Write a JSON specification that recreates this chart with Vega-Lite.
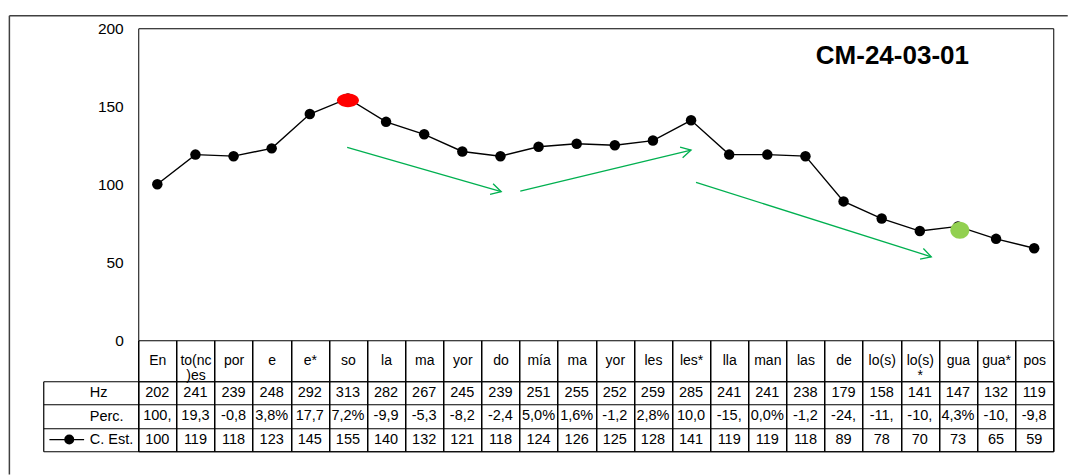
{
  "$schema": "https://vega.github.io/schema/vega-lite/v6.json",
  "padding": {"left": 7.25, "top": 14.25, "right": 0, "bottom": 0},
  "background": "white",
  "config": {
    "view": {"stroke": "black", "strokeWidth": 1},
    "font": "Liberation Sans",
    "text": {"font": "Liberation Sans"},
    "axis": {"labelFont": "Liberation Sans", "labelColor": "black"}
  },
  "datasets": {
    "syl": [
      {"k": "01|En", "hz": 202, "perc": "100,", "est": 100},
      {"k": "02|to(nc|)es", "hz": 241, "perc": "19,3", "est": 119},
      {"k": "03|por", "hz": 239, "perc": "-0,8", "est": 118},
      {"k": "04|e", "hz": 248, "perc": "3,8%", "est": 123},
      {"k": "05|e*", "hz": 292, "perc": "17,7", "est": 145},
      {"k": "06|so", "hz": 313, "perc": "7,2%", "est": 155},
      {"k": "07|la", "hz": 282, "perc": "-9,9", "est": 140},
      {"k": "08|ma", "hz": 267, "perc": "-5,3", "est": 132},
      {"k": "09|yor", "hz": 245, "perc": "-8,2", "est": 121},
      {"k": "10|do", "hz": 239, "perc": "-2,4", "est": 118},
      {"k": "11|mía", "hz": 251, "perc": "5,0%", "est": 124},
      {"k": "12|ma", "hz": 255, "perc": "1,6%", "est": 126},
      {"k": "13|yor", "hz": 252, "perc": "-1,2", "est": 125},
      {"k": "14|les", "hz": 259, "perc": "2,8%", "est": 128},
      {"k": "15|les*", "hz": 285, "perc": "10,0", "est": 141},
      {"k": "16|lla", "hz": 241, "perc": "-15,", "est": 119},
      {"k": "17|man", "hz": 241, "perc": "0,0%", "est": 119},
      {"k": "18|las", "hz": 238, "perc": "-1,2", "est": 118},
      {"k": "19|de", "hz": 179, "perc": "-24,", "est": 89},
      {"k": "20|lo(s)", "hz": 158, "perc": "-11,", "est": 78},
      {"k": "21|lo(s)|*", "hz": 141, "perc": "-10,", "est": 70},
      {"k": "22|gua", "hz": 147, "perc": "4,3%", "est": 73},
      {"k": "23|gua*", "hz": 132, "perc": "-10,", "est": 65},
      {"k": "24|pos", "hz": 119, "perc": "-9,8", "est": 59}
    ],
    "rows": [
      {"row": "hz", "label": "Hz"},
      {"row": "perc", "label": "Perc."},
      {"row": "est", "label": "C. Est."}
    ],
    "arrows": [
      {"a": 1, "x": 5.48, "y": 123.6},
      {"a": 1, "x": 9.52, "y": 95.2},
      {"a": 2, "x": 10.02, "y": 95.6},
      {"a": 2, "x": 14.5, "y": 121.9},
      {"a": 3, "x": 14.63, "y": 101.2},
      {"a": 3, "x": 20.8, "y": 53.5}
    ],
    "heads": [
      {"a": 1, "x": 9.52, "y": 95.2},
      {"a": 2, "x": 14.5, "y": 121.9},
      {"a": 3, "x": 20.8, "y": 53.5}
    ],
    "spots": [
      {"spot": "red", "x": 5.5, "y": 153.8},
      {"spot": "green", "x": 21.55, "y": 70.5}
    ],
    "ttl": [{"t": "CM-24-03-01", "x": 19.78, "y": 182}],
    "frame": [{"x": -3.38, "x2": 24.38, "y": 208, "y2": -86}],
    "key": [{"label": "C. Est.", "x": -2.33, "x2": -1.42, "dot": -1.81}]
  },
  "bounds": "flush",
  "spacing": 41,
  "resolve": {"scale": {"x": "independent", "y": "independent"}},
  "vconcat": [
    {
      "width": 915,
      "height": 312,
      "resolve": {"scale": {"x": "independent"}},
      "layer": [
        {
          "data": {"name": "syl"},
          "layer": [
            {
              "mark": {"type": "line", "color": "black", "strokeWidth": 1.4},
              "encoding": {
                "x": {
                  "field": "k", "type": "nominal", "sort": null, "bandPosition": 0.5,
                  "scale": {"type": "band", "paddingInner": 0, "paddingOuter": 0},
                  "axis": {
                    "title": null, "orient": "bottom", "tickBand": "extent",
                    "ticks": true, "tickSize": 41, "tickColor": "black", "tickWidth": 1.5,
                    "domain": false, "grid": false,
                    "labelExpr": "slice(split(datum.value, '|'), 1)",
                    "labelFontSize": 14, "labelPadding": -20.5, "labelBaseline": "middle",
                    "labelLineHeight": 15, "labelAngle": 0, "labelOverlap": false,
                    "labelBound": false, "labelFlush": false
                  }
                },
                "y": {
                  "field": "est", "type": "quantitative",
                  "scale": {"domain": [0, 200], "nice": false},
                  "axis": {
                    "title": null, "ticks": false, "domain": false, "grid": false,
                    "values": [0, 50, 100, 150, 200],
                    "labelFontSize": 15.5, "labelPadding": 15,
                    "minExtent": 95, "maxExtent": 95
                  }
                }
              }
            },
            {
              "mark": {"type": "point", "filled": true, "color": "black", "size": 110, "opacity": 1, "shape": "circle"},
              "encoding": {
                "x": {"field": "k", "type": "nominal", "sort": null, "bandPosition": 0.5},
                "y": {"field": "est", "type": "quantitative"}
              }
            }
          ]
        },
        {
          "layer": [
            {
              "data": {"name": "arrows"},
              "mark": {"type": "line", "color": "#00b050", "strokeWidth": 1.3},
              "encoding": {
                "x": {"field": "x", "type": "quantitative", "scale": {"domain": [0, 24], "nice": false, "zero": false}, "axis": null},
                "y": {"field": "y", "type": "quantitative"},
                "detail": {"field": "a", "type": "nominal"}
              }
            },
            {
              "data": {"name": "heads"},
              "transform": [{"filter": "datum.a == 1"}],
              "mark": {"type": "point", "shape": "M-1,-0.55L0,0L-1,0.55", "filled": false, "color": "#00b050", "strokeWidth": 1.3, "size": 400, "angle": 16, "opacity": 1},
              "encoding": {
                "x": {"field": "x", "type": "quantitative"},
                "y": {"field": "y", "type": "quantitative"}
              }
            },
            {
              "data": {"name": "heads"},
              "transform": [{"filter": "datum.a == 2"}],
              "mark": {"type": "point", "shape": "M-1,-0.55L0,0L-1,0.55", "filled": false, "color": "#00b050", "strokeWidth": 1.3, "size": 400, "angle": -13.5, "opacity": 1},
              "encoding": {
                "x": {"field": "x", "type": "quantitative"},
                "y": {"field": "y", "type": "quantitative"}
              }
            },
            {
              "data": {"name": "heads"},
              "transform": [{"filter": "datum.a == 3"}],
              "mark": {"type": "point", "shape": "M-1,-0.55L0,0L-1,0.55", "filled": false, "color": "#00b050", "strokeWidth": 1.3, "size": 400, "angle": 17.5, "opacity": 1},
              "encoding": {
                "x": {"field": "x", "type": "quantitative"},
                "y": {"field": "y", "type": "quantitative"}
              }
            },
            {
              "data": {"name": "spots"},
              "transform": [{"filter": "datum.spot == 'red'"}],
              "mark": {"type": "point", "shape": "M-1,0A1,0.62 0 1 0 1,0A1,0.62 0 1 0 -1,0Z", "filled": true, "color": "#ff0000", "size": 484, "opacity": 1, "strokeWidth": 0},
              "encoding": {
                "x": {"field": "x", "type": "quantitative"},
                "y": {"field": "y", "type": "quantitative"}
              }
            },
            {
              "data": {"name": "spots"},
              "transform": [{"filter": "datum.spot == 'green'"}],
              "mark": {"type": "point", "shape": "M-1,0A1,0.9 0 1 0 1,0A1,0.9 0 1 0 -1,0Z", "filled": true, "color": "#92d050", "size": 361, "opacity": 1, "strokeWidth": 0},
              "encoding": {
                "x": {"field": "x", "type": "quantitative"},
                "y": {"field": "y", "type": "quantitative"}
              }
            },
            {
              "data": {"name": "ttl"},
              "mark": {"type": "text", "fontSize": 26, "fontWeight": "bold", "align": "center", "baseline": "middle", "color": "black"},
              "encoding": {
                "x": {"field": "x", "type": "quantitative"},
                "y": {"field": "y", "type": "quantitative"},
                "text": {"field": "t"}
              }
            },
            {
              "data": {"name": "frame"},
              "mark": {"type": "rule", "color": "#404040", "strokeWidth": 1.5, "clip": false},
              "encoding": {
                "x": {"field": "x", "type": "quantitative"},
                "x2": {"field": "x2"},
                "y": {"field": "y", "type": "quantitative"}
              }
            },
            {
              "data": {"name": "frame"},
              "mark": {"type": "rule", "color": "#404040", "strokeWidth": 1.5, "clip": false},
              "encoding": {
                "x": {"field": "x", "type": "quantitative"},
                "y": {"field": "y", "type": "quantitative"},
                "y2": {"field": "y2"}
              }
            }
          ]
        }
      ]
    },
    {
      "width": 915,
      "height": 70,
      "resolve": {"scale": {"x": "independent"}},
      "layer": [
        {
          "data": {"name": "syl"},
          "transform": [
            {"fold": ["hz", "perc", "est"], "as": ["row", "val"]},
            {"lookup": "row", "from": {"data": {"name": "rows"}, "key": "row", "fields": ["label"]}}
          ],
          "mark": {"type": "text", "fontSize": 14.5, "color": "black", "baseline": "middle"},
          "encoding": {
            "x": {
              "field": "k", "type": "nominal", "sort": null,
              "scale": {"type": "band", "paddingInner": 0, "paddingOuter": 0},
              "axis": {"title": null, "labels": false, "ticks": false, "domain": false, "grid": true, "tickBand": "extent", "gridColor": "black", "gridOpacity": 1, "gridWidth": 1.5}
            },
            "y": {
              "field": "label", "type": "nominal", "sort": ["Hz", "Perc.", "C. Est."],
              "scale": {"type": "band", "paddingInner": 0, "paddingOuter": 0},
              "axis": {
                "title": null, "orient": "left", "offset": 95,
                "domain": true, "domainColor": "black", "domainWidth": 1.2,
                "ticks": true, "tickBand": "extent", "tickSize": -95, "tickColor": "black", "tickWidth": 1.2,
                "labels": true, "labelAlign": "left", "labelBaseline": "middle", "labelPadding": 49,
                "labelFontSize": 14.5, "labelOverlap": false, "labelBound": false,
                "grid": true, "gridColor": "black", "gridOpacity": 1, "gridWidth": 1.2
              }
            },
            "text": {"field": "val", "type": "nominal"}
          }
        },
        {
          "data": {"name": "key"},
          "layer": [
            {
              "mark": {"type": "rule", "color": "black", "strokeWidth": 1.3, "clip": false},
              "encoding": {
                "x": {"field": "x", "type": "quantitative", "scale": {"domain": [0, 24], "nice": false, "zero": false}, "axis": null},
                "x2": {"field": "x2"},
                "y": {"field": "label", "type": "nominal", "sort": ["Hz", "Perc.", "C. Est."], "bandPosition": 0.5}
              }
            },
            {
              "mark": {"type": "point", "filled": true, "color": "black", "size": 100, "opacity": 1, "shape": "circle", "clip": false},
              "encoding": {
                "x": {"field": "dot", "type": "quantitative"},
                "y": {"field": "label", "type": "nominal", "sort": ["Hz", "Perc.", "C. Est."], "bandPosition": 0.5}
              }
            }
          ]
        }
      ]
    }
  ]
}
